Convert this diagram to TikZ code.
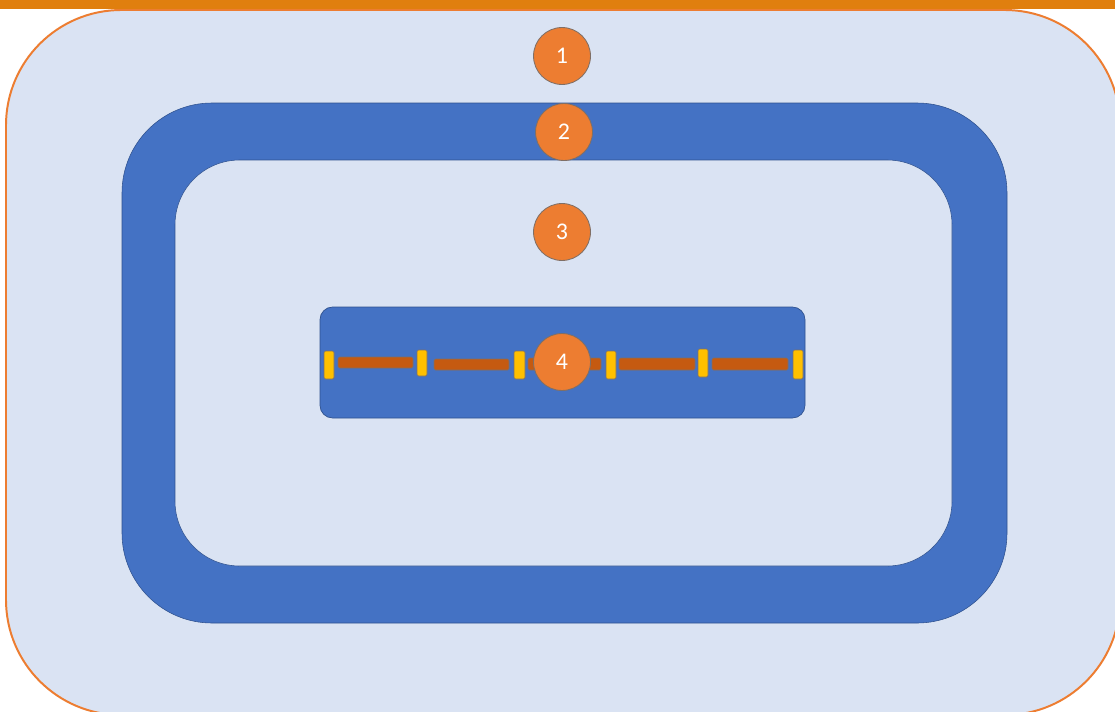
\documentclass[tikz,border=0pt]{standalone}
\usepackage{fontspec}
\setmainfont{Carlito}
\usepackage{tikz}

\definecolor{paleblue}{HTML}{DAE3F3}
\definecolor{ringblue}{HTML}{4472C4}
\definecolor{edgeblue}{HTML}{2F528F}
\definecolor{dotorange}{HTML}{ED7D31}
\definecolor{barorange}{HTML}{E07F0E}
\definecolor{rodbrown}{HTML}{C55A11}
\definecolor{clampyellow}{HTML}{FFC000}
\definecolor{rimgray}{HTML}{7F6F66}

\tikzset{
  marker/.style={draw=rimgray, line width=0.6pt, fill=dotorange, circle, minimum size=40.5pt, inner sep=0pt,
    text=white, font=\fontsize{17}{20}\selectfont},
  rod/.style={draw=rimgray, line width=0.4pt, fill=rodbrown, rounded corners=1pt},
  clamp/.style={draw=rimgray, line width=0.4pt, fill=clampyellow, rounded corners=1pt}
}

\begin{document}
\begin{tikzpicture}[x=0.025cm, y=-0.025cm]
\useasboundingbox (0,0) rectangle (1115,711);
\clip (0,0) rectangle (1115,711);
\fill[white] (0,0) rectangle (1115,711);

% outer field
\draw[draw=dotorange, line width=1.4pt, fill=paleblue, rounded corners=82pt] (6,10) rectangle (1120,715);
\fill[barorange] (0,0) rectangle (1115,9);

% ring
\draw[draw=edgeblue, line width=0.4pt, fill=ringblue, rounded corners=64pt] (122,103) rectangle (1007,623);
\draw[draw=edgeblue, line width=0.4pt, fill=paleblue, rounded corners=46pt] (175,160) rectangle (952,566);

% centre block
\draw[draw=edgeblue, line width=0.5pt, fill=ringblue, rounded corners=9pt] (320,307) rectangle (805,418);

\draw[rod] (338,357) rectangle (413,368);
\draw[rod] (434,359) rectangle (509,370);
\draw[rod] (528,358) rectangle (601,370);
\draw[rod] (619,358) rectangle (695,370);
\draw[rod] (712,358) rectangle (788,370);

\draw[clamp] (324,351) rectangle (334,379);
\draw[clamp] (417,350) rectangle (427,376);
\draw[clamp] (514,351) rectangle (525,379);
\draw[clamp] (606,351) rectangle (616,379);
\draw[clamp] (698,349) rectangle (708,377);
\draw[clamp] (793,350) rectangle (803,379);

\node[marker] (1) at (562,56) {1};
\node[marker] (2) at (564,132) {2};
\node[marker] (3) at (562,232) {3};
\node[marker] (4) at (562,362) {4};
\end{tikzpicture}
\end{document}
